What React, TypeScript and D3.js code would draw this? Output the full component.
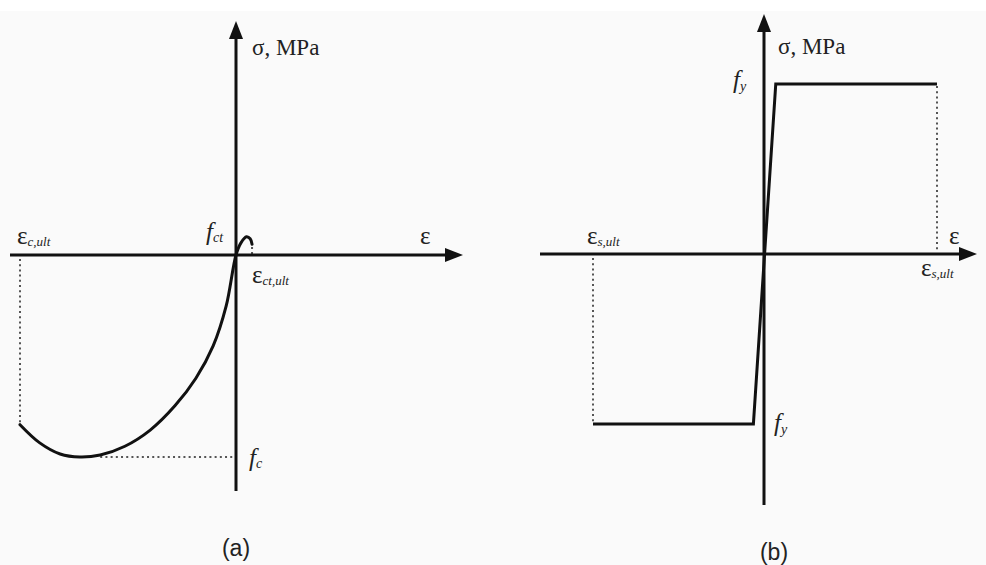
import React from "react";
import * as d3 from "d3";

// Concrete constitutive law: strain (‰) vs stress (MPa)
const concreteStrain = [-3.5, -3.18, -2.85, -2.53, -2.2, -1.8, -1.39, -0.99, -0.65, -0.37, -0.16, 0, 0.08, 0.17, 0.23, 0.26];
const concreteStress = [-25.2, -27.9, -29.55, -30, -29.7, -28.4, -26.0, -22.4, -18.3, -13.5, -7.6, 0, 1.8, 2.7, 2.4, 1.6];
const concreteFc = -30;
const concreteEpsCU = -3.5;
const concreteEpsCtU = 0.26;

// Steel constitutive law: strain (‰) vs stress (MPa)
const steelStrain = [-10, -0.62, 0.68, 10];
const steelStress = [-500, -500, 500, 500];
const steelFy = 500;
const steelEpsU = 10;

const W = 986;
const H = 565;

const serif = "'Liberation Serif', 'DejaVu Serif', serif";
const sans = "'Liberation Sans', Arial, sans-serif";

function Arrow({ x, y, dir }: { x: number; y: number; dir: "right" | "up" }) {
  const L = 18;
  const w = 7;
  const pts =
    dir === "right"
      ? [[x, y], [x - L, y - w], [x - L, y + w]]
      : [[x, y], [x - w, y + L], [x + w, y + L]];
  return <polygon points={pts.map((p) => p.join(",")).join(" ")} fill="#111" />;
}

export default function App() {
  // Panel (a) scales
  const xa = d3.scaleLinear().domain([-3.5, 0]).range([20, 236]);
  const ya = d3.scaleLinear().domain([-30, 0]).range([457, 255]);
  const concreteData = concreteStrain.map((e, i) => [e, concreteStress[i]] as [number, number]);
  const lineA = d3
    .line<[number, number]>()
    .x((d) => xa(d[0]))
    .y((d) => ya(d[1]))
    .curve(d3.curveCatmullRom.alpha(0.5));

  // Panel (b) scales
  const xb = d3.scaleLinear().domain([-10, 0, 10]).range([593, 764, 937]);
  const yb = d3.scaleLinear().domain([-500, 500]).range([424, 84]);
  const steelData = steelStrain.map((e, i) => [e, steelStress[i]] as [number, number]);
  const lineB = d3
    .line<[number, number]>()
    .x((d) => xb(d[0]))
    .y((d) => yb(d[1]));

  const ink = "#111";
  const dot = { stroke: "#555", strokeWidth: 2, strokeDasharray: "2 3.2", fill: "none" };

  const ax0 = xa(0);
  const ay0 = ya(0);
  const bx0 = xb(0);
  const by0 = yb(0);

  return (
    <svg
      width={W}
      height={H}
      viewBox={`0 0 ${W} ${H}`}
      style={{ position: "absolute", left: 0, top: 0, display: "block" }}
    >
      <rect x={0} y={0} width={W} height={H} fill="#fafafa" />
      <rect x={0} y={0} width={W} height={11} fill="#ffffff" />

      {/* ---------- Panel (a): concrete ---------- */}
      <g>
        {/* guide lines */}
        <line x1={xa(concreteEpsCU)} x2={xa(concreteEpsCU)} y1={ay0 + 4} y2={ya(concreteStress[0]) - 2} {...dot} />
        <line x1={xa(-2.2)} x2={ax0} y1={ya(concreteFc)} y2={ya(concreteFc)} {...dot} />
        <line x1={xa(concreteEpsCtU)} x2={xa(concreteEpsCtU)} y1={ya(1.2)} y2={ay0} {...dot} />

        {/* axes */}
        <line x1={10} x2={448} y1={ay0} y2={ay0} stroke={ink} strokeWidth={3} />
        <Arrow x={463} y={ay0} dir="right" />
        <line x1={ax0} x2={ax0} y1={491} y2={36} stroke={ink} strokeWidth={3} />
        <Arrow x={ax0} y={21} dir="up" />

        {/* curve */}
        <path d={lineA(concreteData) || ""} fill="none" stroke={ink} strokeWidth={3} strokeLinecap="round" />

        {/* labels */}
        <text x={252} y={55} fontFamily={serif} fontSize={23} fill="#222">σ, MPa</text>
        <text x={420} y={244} fontFamily={serif} fontSize={25} fill="#222">ε</text>
        <text x={17} y={244} fontFamily={serif} fontSize={25} fill="#222">
          ε<tspan fontSize={13} fontStyle="italic" dy={2}>c,ult</tspan>
        </text>
        <text x={206} y={240} fontFamily={serif} fontSize={25} fontStyle="italic" fill="#222">
          f<tspan fontSize={14} dy={2}>ct</tspan>
        </text>
        <text x={252} y={283} fontFamily={serif} fontSize={25} fill="#222">
          ε<tspan fontSize={13} fontStyle="italic" dy={2}>ct,ult</tspan>
        </text>
        <text x={249} y={466} fontFamily={serif} fontSize={25} fontStyle="italic" fill="#222">
          f<tspan fontSize={14} dy={2}>c</tspan>
        </text>
        <text x={236} y={556} fontFamily={sans} fontSize={23} textAnchor="middle" fill="#222">(a)</text>
      </g>

      {/* ---------- Panel (b): steel ---------- */}
      <g>
        <line x1={xb(-steelEpsU)} x2={xb(-steelEpsU)} y1={by0 + 4} y2={yb(-steelFy) - 2} {...dot} />
        <line x1={xb(steelEpsU)} x2={xb(steelEpsU)} y1={yb(steelFy) + 2} y2={by0 - 4} {...dot} />

        <line x1={540} x2={962} y1={by0} y2={by0} stroke={ink} strokeWidth={3} />
        <Arrow x={977} y={by0} dir="right" />
        <line x1={bx0} x2={bx0} y1={505} y2={30} stroke={ink} strokeWidth={3} />
        <Arrow x={bx0} y={14} dir="up" />

        <path d={lineB(steelData) || ""} fill="none" stroke={ink} strokeWidth={3} strokeLinejoin="miter" />

        <text x={778} y={54} fontFamily={serif} fontSize={23} fill="#222">σ, MPa</text>
        <text x={949} y={244} fontFamily={serif} fontSize={25} fill="#222">ε</text>
        <text x={587} y={244} fontFamily={serif} fontSize={25} fill="#222">
          ε<tspan fontSize={13} fontStyle="italic" dy={2}>s,ult</tspan>
        </text>
        <text x={921} y={276} fontFamily={serif} fontSize={25} fill="#222">
          ε<tspan fontSize={13} fontStyle="italic" dy={2}>s,ult</tspan>
        </text>
        <text x={733} y={88} fontFamily={serif} fontSize={25} fontStyle="italic" fill="#222">
          f<tspan fontSize={14} dy={3}>y</tspan>
        </text>
        <text x={774} y={431} fontFamily={serif} fontSize={25} fontStyle="italic" fill="#222">
          f<tspan fontSize={14} dy={3}>y</tspan>
        </text>
        <text x={774} y={560} fontFamily={sans} fontSize={23} textAnchor="middle" fill="#222">(b)</text>
      </g>
    </svg>
  );
}
